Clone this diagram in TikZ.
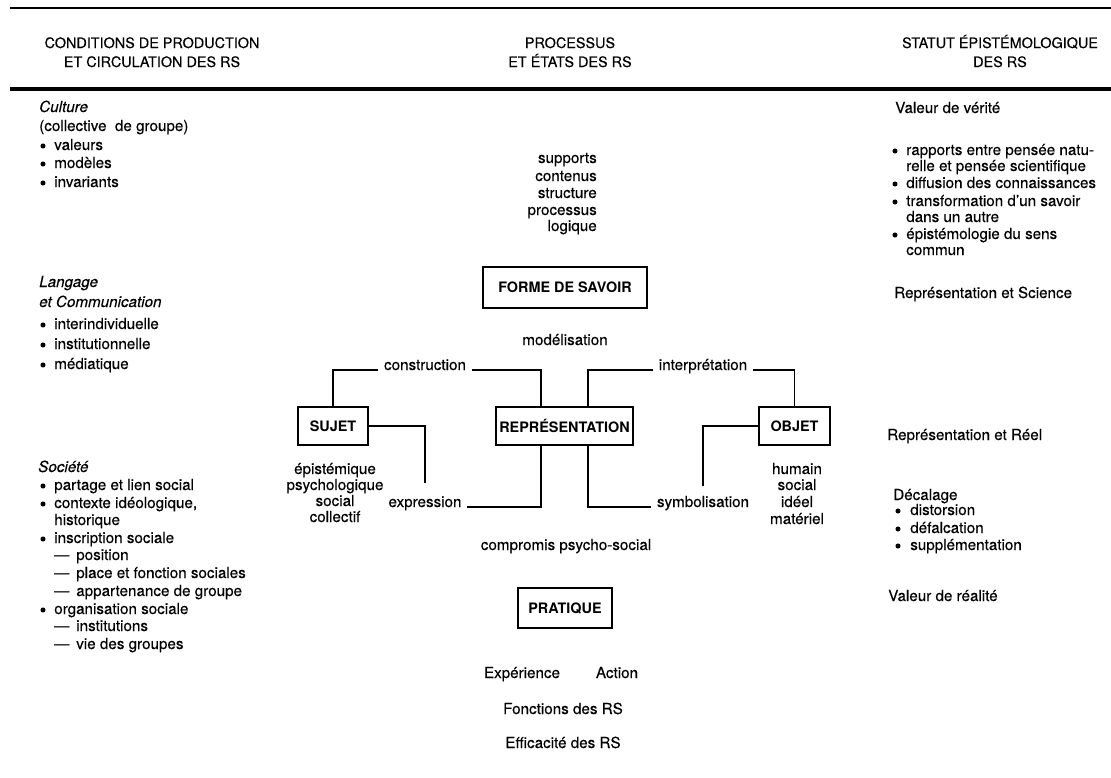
\documentclass[tikz,border=0pt]{standalone}
\usepackage{fontspec}
\setmainfont{TeX Gyre Heros}[UprightFeatures={FakeBold=0.3}, ItalicFeatures={FakeBold=0.3}]
\usetikzlibrary{calc,positioning}
\newcommand{\dsh}{\makebox[16.5pt][l]{---}}
\tikzset{
  txt/.style={inner sep=0pt, anchor=base west, text height=8pt, text depth=2pt, font=\fontsize{11.4}{14}\selectfont},
  ctxt/.style={txt, anchor=base},
  rtxt/.style={txt, anchor=base east},
  ital/.style={txt, font=\fontsize{11.4}{14}\selectfont\itshape},
  head/.style={inner sep=0pt, anchor=base, font=\fontsize{10.8}{13}\selectfont},
  box/.style={draw, line width=1.5pt, inner sep=0pt, minimum height=38*.75pt, font=\fontsize{10.8}{13}\selectfont\bfseries},
  lbl/.style={ctxt, inner xsep=4pt},
  lnk/.style={line width=1.2pt},
  rule/.style={line width=1.5pt},
  dot/.style={radius=1.9pt}
}
\begin{document}
\begin{tikzpicture}[x=0.75pt, y=-0.75pt]
  \useasboundingbox (0,0) rectangle (1111,778);

  % column heads
  \draw[rule] (10,8) -- (1111,8);
  \node[head] (h1a) at (152,48) {CONDITIONS DE PRODUCTION};
  \node[head] (h1b) at (152,67) {ET CIRCULATION DES RS};
  \node[head] (h2a) at (570,48) {PROCESSUS};
  \node[head] (h2b) at (570,67) {ET ÉTATS DES RS};
  \node[head] (h3a) at (1000,48) {STATUT ÉPISTÉMOLOGIQUE};
  \node[head] (h3b) at (1000,67) {DES RS};
  \draw[rule, line width=3pt] (10,89) -- (1111,89);

  % left column
  \node[ital] (cul) at (39,112) {Culture};
  \node[txt] (cul0) at (39,131) {(collective\ \ de groupe)};
  \foreach \y/\t [count=\i] in {150/valeurs, 168/modèles, 187/invariants} {
    \node[txt] (cul\i) at (54,\y) {\t};
    \fill[dot] ($(cul\i.base west)+(-11,-4)$) circle;
  }

  \node[ital] (lang) at (39,287) {Langage};
  \node[ital] (lang0) at (39,307) {et Communication};
  \foreach \y/\t [count=\i] in {329/interindividuelle, 349/institutionnelle, 369/médiatique} {
    \node[txt] (lang\i) at (54,\y) {\t};
    \fill[dot] ($(lang\i.base west)+(-11,-4)$) circle;
  }

  \node[ital] (soc) at (38,472) {Société};
  \foreach \y/\t [count=\i] in {490/partage et lien social, 508/{contexte idéologique,}, 543/inscription sociale, 614/organisation sociale} {
    \node[txt] (soc\i) at (54,\y) {\t};
    \fill[dot] ($(soc\i.base west)+(-11,-4)$) circle;
  }
  \node[txt] (soc5) at (54,525) {historique};
  \foreach \y/\t [count=\i] in {560/position, 578/place et fonction sociales, 596/appartenance de groupe, 631/institutions, 649/vie des groupes}
    \node[txt] (dsh\i) at (54,\y) {\dsh\t};

  % centre column
  \foreach \y/\t [count=\i] in {163/supports, 181/contenus, 198/structure, 215/processus, 231/logique}
    \node[rtxt] (sup\i) at (597,\y) {\t};
  \node[box, minimum width=164*.75pt, minimum height=41*.75pt] (forme) at (565,287) {FORME DE SAVOIR};
  \node[ctxt] (model) at (565,345) {modélisation};

  \node[box, minimum width=70*.75pt] (sujet) at (333,426) {SUJET};
  \node[box, minimum width=137*.75pt] (rep) at (564.5,426) {REPRÉSENTATION};
  \node[box, minimum width=71*.75pt] (objet) at (794.5,426) {OBJET};

  \node[lbl] (constr) at (425,370) {construction};
  \node[lbl] (interp) at (703,370) {interprétation};
  \node[lbl] (expr) at (425,507) {expression};
  \node[lbl] (symb) at (703,507) {symbolisation};

  \foreach \y/\t [count=\i] in {474/épistémique, 490/psychologique, 506/social, 522/collectif}
    \node[ctxt] (suj\i) at (335,\y) {\t};
  \foreach \y/\t [count=\i] in {474/humain, 490/social, 507/idéel, 524/matériel}
    \node[ctxt] (obj\i) at (797,\y) {\t};

  \coordinate (rtl) at ($(rep.north west)!.33!(rep.north east)$);
  \coordinate (rtr) at ($(rep.north west)!.67!(rep.north east)$);
  \coordinate (rbl) at ($(rep.south west)!.33!(rep.south east)$);
  \coordinate (rbr) at ($(rep.south west)!.67!(rep.south east)$);

  \draw[lnk] (sujet.north) |- (constr.base west);
  \draw[lnk] (constr.base east) -| (rtl);
  \draw[lnk] (rtr) |- (interp.base west);
  \draw[lnk] (interp.base east) -| (objet.north);
  \draw[lnk] (sujet.east) -| ($(expr.base)+(0,-24)$);
  \draw[lnk] (rbl) |- (expr.base east);
  \draw[lnk] (rbr) |- (symb.base west);
  \draw[lnk] (objet.west) -| ($(symb.base)+(0,-21)$);

  \node[ctxt] (compr) at (566,550) {compromis psycho-social};
  \node[box, minimum width=94*.75pt, minimum height=40*.75pt] (prat) at (565,608) {PRATIQUE};
  \node[ctxt] (exper) at (522,678) {Expérience};
  \node[ctxt] (action) at (617,678) {Action};
  \node[ctxt] (fonct) at (563,714) {Fonctions des RS};
  \node[ctxt] (effic) at (563,748) {Efficacité des RS};

  % right column
  \node[txt] (verite) at (895,113) {Valeur de vérité};
  \foreach \y/\t [count=\i] in {155/rapports entre pensée natu-, 188/diffusion des connaissances, 206/transformation d’un savoir, 239/épistémologie du sens} {
    \node[txt] (ver\i) at (906,\y) {\t};
    \fill[dot] ($(ver\i.base west)+(-11,-4)$) circle;
  }
  \foreach \y/\t [count=\i] in {171/relle et pensée scientifique, 222/dans un autre, 255/commun}
    \node[txt] (vers\i) at (906,\y) {\t};
  \node[txt] (science) at (894,298) {Représentation et Science};
  \node[txt] (reel) at (887,440) {Représentation et Réel};
  \node[txt] (decal) at (893,500) {Décalage};
  \foreach \y/\t [count=\i] in {515/distorsion, 533/défalcation, 550/supplémentation} {
    \node[txt] (dec\i) at (910,\y) {\t};
    \fill[dot] ($(dec\i.base west)+(-12,-4)$) circle;
  }
  \node[txt] (realite) at (888,601) {Valeur de réalité};
\end{tikzpicture}
\end{document}
